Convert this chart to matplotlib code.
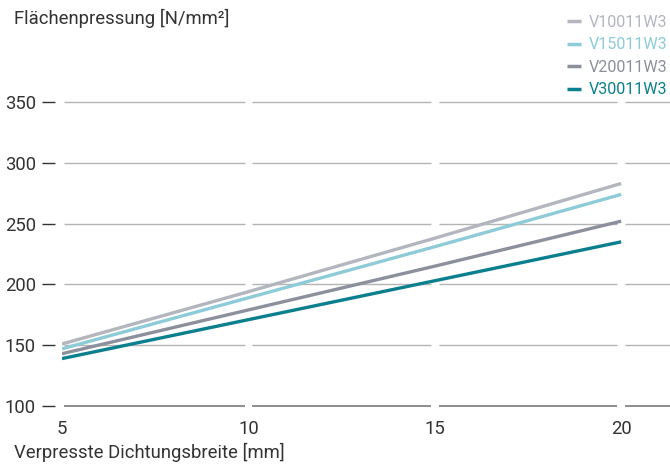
import matplotlib
matplotlib.use("Agg")
import matplotlib.pyplot as plt

# Verpresste Dichtungsbreite [mm]
breite = [5, 10, 15, 20]

# Flächenpressung [N/mm²] per Dichtungstyp
v10011w3 = [151, 194, 238, 283]
v15011w3 = [147, 189, 231, 274]
v20011w3 = [143, 179, 215, 252]
v30011w3 = [139, 171, 203, 235]

serien = ["V10011W3", "V15011W3", "V20011W3", "V30011W3"]
farben = ["#b3b6bf", "#8ecbd8", "#8c909c", "#0a7f8e"]

y_ticks = [100, 150, 200, 250, 300, 350]
x_ticks = [5, 10, 15, 20]

TEXT = "#333333"
plt.rcParams["font.family"] = ["Roboto", "DejaVu Sans"]

fig = plt.figure(figsize=(6.7, 4.65), dpi=100)
ax = fig.add_axes([62 / 670, 59 / 465, 608 / 670, 304 / 465])
ax.set_xlim(5, 21.31)
ax.set_ylim(100, 350)

# horizontal grid, broken at each x tick
gap = 0.1
x_end = 21.31
for y in y_ticks:
    col = "#7a7a7a" if y == 100 else "#b4b4b4"
    lw = 1.2 if y == 100 else 1.0
    edges = [5.05] + [t for t in x_ticks[1:] for _ in (0, 1)] + [x_end]
    for i in range(0, len(edges), 2):
        a, b = edges[i], edges[i + 1]
        a = a + gap if i > 0 else a
        b = b - gap if b != x_end else b
        ax.plot([a, b], [y, y], color=col, lw=lw, solid_capstyle="butt",
                clip_on=False, zorder=1)

for name, vals, c in zip(serien, [v10011w3, v15011w3, v20011w3, v30011w3], farben):
    ax.plot(breite, vals, color=c, lw=2.4, label=name, solid_capstyle="butt", zorder=3)

for s in ax.spines.values():
    s.set_visible(False)
ax.spines["left"].set_position(("outward", 5))

ax.set_yticks(y_ticks)
ax.set_xticks(x_ticks)
ax.tick_params(axis="y", length=9.4, width=1.0, color=TEXT, pad=4.5,
               labelsize=13.3, labelcolor=TEXT)
ax.tick_params(axis="x", length=0, pad=10, labelsize=13.3, labelcolor=TEXT)

fig.text(14 / 670, 1 - 18 / 465, "Flächenpressung [N/mm²]", ha="left",
         va="center", fontsize=13.3, color=TEXT)
fig.text(14 / 670, 1 - 452 / 465, "Verpresste Dichtungsbreite [mm]", ha="left",
         va="center", fontsize=13.3, color=TEXT)

leg = ax.legend(loc="upper right", bbox_to_anchor=(1.008, 1 - 7 / 465),
                bbox_transform=fig.transFigure, frameon=False, fontsize=11.6,
                handlelength=0.9, handletextpad=0.45, labelspacing=0.46,
                borderaxespad=0.1, labelcolor="linecolor")
for h in leg.get_lines():
    h.set_linewidth(2.5)

fig.savefig("out.png", dpi=100, facecolor="white")
